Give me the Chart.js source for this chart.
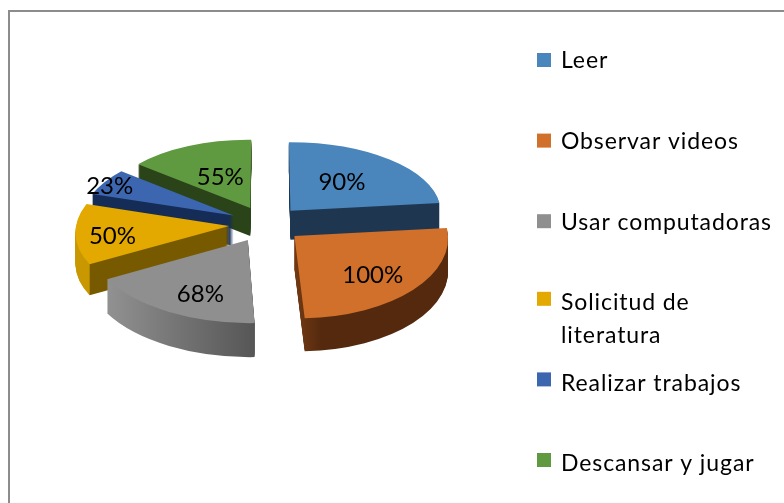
<!DOCTYPE html>
<html>
<head>
<meta charset="utf-8">
<style>
  html, body { margin: 0; background: #fff; overflow: hidden; }
  #wrap { position: relative; width: 784px; height: 503px; overflow: hidden; }
  #frame { position: absolute; left: 8px; top: 10px; width: 900px; height: 900px; border: 2px solid #8c8c8c; }
  canvas { position: absolute; left: 0; top: 0; filter: blur(0.4px); }
</style>
<script src="https://cdn.jsdelivr.net/npm/chart.js@4"></script>
</head>
<body>
<div id="wrap">
  <div id="frame"></div>
  <canvas id="pie" width="784" height="503"></canvas>
</div>
<script>
const categories = ['Leer', 'Observar videos', 'Usar computadoras', ['Solicitud de', 'literatura'], 'Realizar trabajos', 'Descansar y jugar'];
const values = [90, 100, 68, 50, 23, 55];

const topColours = ['#4a86bc', '#d0702a', '#8f8f8f', '#e3a900', '#3c67b0', '#5f9a40'];
// wall colours run left to right across each slice
const wallColours = [
    [[0, '#1f3650'], [1, '#1f3650']],
    [[0, '#7d4016'], [0.2, '#54290e'], [1, '#54290e']],
    [[0, '#969696'], [0.5, '#737373'], [1, '#525252']],
    [[0, '#c99700'], [0.165, '#c99700'], [0.17, '#775a00'], [1, '#775a00']],
    [[0, '#142c56'], [1, '#142c56']],
    [[0, '#2b4319'], [1, '#2b4319']]
];
// how far out along each slice the percentage sits, and how far it drops below that
const labelReach = [0.53, 0.64, 0.6, 0.76, 0.96, 0.48];
const labelDrop = [0, 6, 12, 4, 3, 0];

const font = '"Lato", "Liberation Sans", sans-serif';
const explode = 37;
const tilt = 0.49;
const viewer = 2200;
const depth = 31;

function project(arc, x, y) {
    const s = viewer / (viewer - y);
    return {x: arc.x + x * s, y: arc.y + y * tilt * s};
}

// affine transform taking the flat slice on to its tilted, pulled out position
function applyTilt(ctx, arc) {
    const r = arc.outerRadius;
    const mid = (arc.startAngle + arc.endAngle) / 2;
    const ax = Math.cos(mid) * explode, ay = Math.sin(mid) * explode;
    const ux = Math.cos(arc.startAngle) * r, uy = Math.sin(arc.startAngle) * r;
    const vx = Math.cos(arc.endAngle) * r, vy = Math.sin(arc.endAngle) * r;
    const A = project(arc, ax, ay);
    const U = project(arc, ax + ux, ay + uy);
    const V = project(arc, ax + vx, ay + vy);
    const det = ux * vy - uy * vx;
    const a = ((U.x - A.x) * vy - (V.x - A.x) * uy) / det;
    const c = ((V.x - A.x) * ux - (U.x - A.x) * vx) / det;
    const b = ((U.y - A.y) * vy - (V.y - A.y) * uy) / det;
    const d = ((V.y - A.y) * ux - (U.y - A.y) * vx) / det;
    ctx.transform(a, b, c, d,
        A.x - a * arc.x - c * arc.y,
        A.y - b * arc.x - d * arc.y);
}

function drawSlice(ctx, arc, i) {
    const base = arc.options;
    const mid = (arc.startAngle + arc.endAngle) / 2;
    const cornerXs = [0, Math.cos(arc.startAngle), Math.cos(arc.endAngle), Math.cos(mid)].map(c => c * arc.outerRadius);
    const wall = ctx.createLinearGradient(arc.x + Math.min(...cornerXs) - 10, 0, arc.x + Math.max(...cornerXs) + 10, 0);
    wallColours[i].forEach(stop => wall.addColorStop(stop[0], stop[1]));

    // front slices sit nearer, so their walls read a little taller
    const wallHeight = Math.round(depth * (1 + 0.1 * Math.sin(mid)));
    arc.options = Object.assign({}, base, {backgroundColor: wall, borderWidth: 0});
    for (let d = wallHeight; d >= 1; d--) {
        ctx.save();
        ctx.translate(0, d);
        applyTilt(ctx, arc);
        arc.draw(ctx);
        ctx.restore();
    }
    arc.options = Object.assign({}, base, {backgroundColor: topColours[i], borderWidth: 0});
    ctx.save();
    applyTilt(ctx, arc);
    arc.draw(ctx);
    ctx.restore();
    arc.options = base;
}

const piePlugin = {
    id: 'tiltedPie',
    beforeDatasetDraw(chart, args) {
        const ctx = chart.ctx;
        const arcs = chart.getDatasetMeta(args.index).data;
        const midY = arc => Math.sin((arc.startAngle + arc.endAngle) / 2);
        const order = arcs.map((arc, i) => i).sort((p, q) => midY(arcs[p]) - midY(arcs[q]));
        order.forEach(i => drawSlice(ctx, arcs[i], i));

        ctx.save();
        ctx.fillStyle = '#000';
        ctx.font = '24px ' + font;
        ctx.textAlign = 'center';
        ctx.textBaseline = 'middle';
        arcs.forEach((arc, i) => {
            const mid = (arc.startAngle + arc.endAngle) / 2;
            const dist = explode + arc.outerRadius * labelReach[i];
            const p = project(arc, Math.cos(mid) * dist, Math.sin(mid) * dist);
            ctx.fillText(values[i] + '%', p.x, p.y + labelDrop[i]);
        });
        ctx.restore();
        return false;
    },
    afterDraw(chart) {
        const ctx = chart.ctx;
        ctx.save();
        ctx.font = '23px ' + font;
        ctx.letterSpacing = '0.9px';
        ctx.textBaseline = 'middle';
        categories.forEach((label, i) => {
            const y = 61 + i * 80.6;
            ctx.fillStyle = topColours[i];
            ctx.fillRect(537, y - 8 - 3 * (i > 2 ? 1 : 0), 14, 14);
            ctx.fillStyle = '#000';
            [].concat(label).forEach((line, n) => ctx.fillText(line, 561, y + n * 33));
        });
        ctx.restore();
    }
};

new Chart(document.getElementById('pie'), {
    type: 'pie',
    data: {
        labels: categories,
        datasets: [{
            data: values,
            backgroundColor: topColours,
            borderWidth: 0,
            radius: 153,
            clip: false
        }]
    },
    options: {
        responsive: false,
        animation: false,
        layout: {padding: {right: 252, bottom: 55}},
        plugins: {
            legend: {display: false},
            tooltip: {enabled: false}
        }
    },
    plugins: [piePlugin]
});
</script>
</body>
</html>
